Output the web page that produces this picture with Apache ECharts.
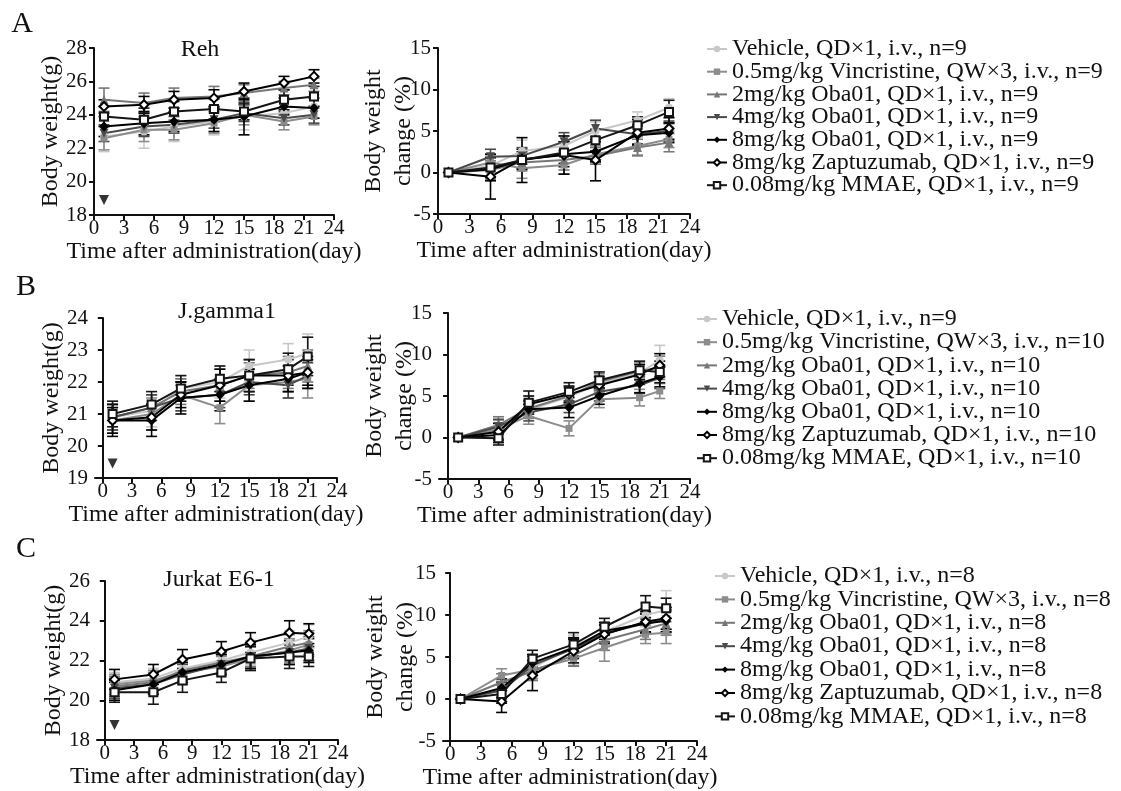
<!DOCTYPE html>
<html>
<head>
<meta charset="utf-8">
<script src="https://cdn.jsdelivr.net/npm/echarts@6.0.0/dist/echarts.min.js"></script>
<style>
html, body { margin: 0; padding: 0; background: #fff; }
#chart { width: 1121px; height: 791px; }
</style>
</head>
<body>
<div id="chart"></div>
<script>
// sampling days
const daysA = [1, 5, 8, 12, 15, 19, 22];
const daysBC = [1, 5, 8, 12, 15, 19, 21];
const xTicks = [0, 3, 6, 9, 12, 15, 18, 21, 24];

// legend labels (order = series order)
const namesA = [
  'Vehicle, QD×1, i.v., n=9',
  '0.5mg/kg Vincristine, QW×3, i.v., n=9',
  '2mg/kg Oba01, QD×1, i.v., n=9',
  '4mg/kg Oba01, QD×1, i.v., n=9',
  '8mg/kg Oba01, QD×1, i.v., n=9',
  '8mg/kg Zaptuzumab, QD×1, i.v., n=9',
  '0.08mg/kg MMAE, QD×1, i.v., n=9'
];
const namesB = [
  'Vehicle, QD×1, i.v., n=9',
  '0.5mg/kg Vincristine, QW×3, i.v., n=10',
  '2mg/kg Oba01, QD×1, i.v., n=10',
  '4mg/kg Oba01, QD×1, i.v., n=10',
  '8mg/kg Oba01, QD×1, i.v., n=10',
  '8mg/kg Zaptuzumab, QD×1, i.v., n=10',
  '0.08mg/kg MMAE, QD×1, i.v., n=10'
];
const namesC = [
  'Vehicle, QD×1, i.v., n=8',
  '0.5mg/kg Vincristine, QW×3, i.v., n=8',
  '2mg/kg Oba01, QD×1, i.v., n=8',
  '4mg/kg Oba01, QD×1, i.v., n=8',
  '8mg/kg Oba01, QD×1, i.v., n=8',
  '8mg/kg Zaptuzumab, QD×1, i.v., n=8',
  '0.08mg/kg MMAE, QD×1, i.v., n=8'
];

// A: Reh — body weight (g), mean and SD
const rehWeight = [
  [22.7, 23.0, 23.3, 23.6, 23.9, 24.1, 24.5],
  [22.6, 23.1, 23.1, 23.5, 24.0, 23.6, 23.9],
  [24.9, 24.7, 25.0, 25.1, 25.3, 25.6, 25.8],
  [22.9, 23.3, 23.4, 23.7, 24.1, 23.8, 24.0],
  [23.3, 23.5, 23.6, 23.7, 23.9, 24.5, 24.4],
  [24.5, 24.6, 24.9, 25.0, 25.4, 25.9, 26.3],
  [23.9, 23.7, 24.2, 24.35, 24.2, 24.9, 25.1]
];
const rehWeightSd = [
  [0.9, 1.0, 0.9, 0.8, 0.8, 0.7, 0.7],
  [0.7, 0.7, 0.6, 0.6, 0.6, 0.5, 0.5],
  [0.7, 0.6, 0.6, 0.6, 0.5, 0.4, 0.4],
  [0.5, 0.6, 0.5, 0.5, 0.5, 0.4, 0.5],
  [0.6, 0.7, 0.6, 0.7, 1.1, 0.5, 0.6],
  [0.4, 0.5, 0.5, 0.5, 0.5, 0.4, 0.4],
  [0.6, 0.7, 0.6, 0.6, 0.5, 0.6, 0.6]
];
// A: Reh — body weight change (%)
const rehChange = [
  [0, 0.8, 2.6, 3.2, 5.0, 6.3, 7.8],
  [0, 1.2, 0.5, 0.9, 2.2, 3.2, 4.0],
  [0, 0.3, 1.2, 1.5, 2.0, 3.0, 3.6],
  [0, 1.9, 2.0, 3.7, 5.3, 4.6, 5.0],
  [0, 0.4, 1.5, 2.2, 2.5, 4.5, 4.8],
  [0, -0.5, 1.6, 2.1, 1.5, 4.8, 5.3],
  [0, 0.6, 1.5, 2.4, 3.9, 5.7, 7.3]
];
const rehChangeSd = [
  [0, 1.2, 1.3, 1.2, 1.1, 1.0, 1.1],
  [0, 1.0, 1.2, 1.1, 1.0, 1.1, 1.0],
  [0, 1.1, 1.0, 1.2, 1.0, 1.0, 1.1],
  [0, 0.9, 1.0, 1.1, 1.0, 1.2, 1.2],
  [0, 1.4, 2.7, 1.5, 1.2, 1.1, 1.2],
  [0, 2.7, 1.2, 2.3, 2.5, 1.6, 1.3],
  [0, 1.2, 1.0, 1.3, 1.3, 1.0, 1.4]
];

// B: J.gamma1
const jgWeight = [
  [20.9, 21.1, 21.8, 22.0, 22.5, 22.7, 22.9],
  [20.8, 21.0, 21.6, 21.2, 21.9, 22.0, 22.1],
  [20.9, 21.2, 21.7, 21.9, 22.2, 22.3, 22.5],
  [20.9, 21.2, 21.5, 21.6, 22.0, 21.9, 22.2],
  [20.8, 20.8, 21.5, 21.6, 21.9, 22.1, 22.3],
  [20.8, 20.9, 21.6, 21.9, 22.2, 22.2, 22.3],
  [21.0, 21.3, 21.8, 22.1, 22.2, 22.4, 22.8]
];
const jgWeightSd = [
  [0.5, 0.5, 0.4, 0.5, 0.5, 0.5, 0.6],
  [0.4, 0.5, 0.5, 0.5, 0.5, 0.5, 0.6],
  [0.4, 0.4, 0.4, 0.5, 0.4, 0.5, 0.5],
  [0.4, 0.4, 0.4, 0.4, 0.4, 0.4, 0.4],
  [0.5, 0.5, 0.5, 0.5, 0.5, 0.4, 0.4],
  [0.4, 0.4, 0.4, 0.5, 0.5, 0.5, 0.5],
  [0.4, 0.4, 0.4, 0.4, 0.5, 0.5, 0.6]
];
const jgChange = [
  [0, 0.8, 3.3, 4.9, 6.5, 7.8, 9.3],
  [0, 1.0, 2.6, 1.1, 4.6, 4.8, 5.6],
  [0, 1.5, 3.5, 5.0, 6.7, 8.0, 8.4],
  [0, 1.3, 3.0, 4.0, 5.5, 6.3, 7.2],
  [0, 0.3, 3.4, 3.6, 5.0, 6.5, 7.3],
  [0, 0.7, 4.0, 5.2, 6.3, 7.6, 8.7],
  [0, -0.1, 4.2, 5.5, 6.9, 8.1, 7.9]
];
const jgChangeSd = [
  [0, 1.0, 1.0, 1.1, 1.0, 1.2, 1.8],
  [0, 1.1, 1.0, 0.9, 1.0, 1.0, 0.9],
  [0, 1.0, 1.1, 1.0, 1.0, 1.1, 1.4],
  [0, 0.9, 1.0, 1.0, 1.1, 1.0, 1.3],
  [0, 0.9, 1.0, 1.2, 1.0, 1.1, 1.2],
  [0, 1.0, 1.0, 1.0, 1.0, 1.2, 1.4],
  [0, 0.8, 1.4, 1.1, 1.0, 1.1, 1.3]
];

// C: Jurkat E6-1
const jkWeight = [
  [20.9, 21.1, 21.6, 22.0, 22.4, 22.9, 23.2],
  [20.8, 21.0, 21.4, 21.7, 22.1, 22.5, 22.8],
  [20.7, 20.9, 21.5, 21.9, 22.2, 22.7, 22.9],
  [20.6, 20.8, 21.3, 21.8, 22.2, 22.4, 22.6],
  [20.5, 20.8, 21.4, 21.8, 22.2, 22.4, 22.5],
  [21.05, 21.3, 22.05, 22.45, 22.9, 23.4, 23.35],
  [20.4, 20.4, 21.0, 21.4, 22.1, 22.2, 22.2]
];
const jkWeightSd = [
  [0.5, 0.5, 0.5, 0.5, 0.6, 0.6, 0.6],
  [0.5, 0.5, 0.5, 0.5, 0.6, 0.6, 0.6],
  [0.5, 0.5, 0.5, 0.5, 0.5, 0.6, 0.6],
  [0.5, 0.5, 0.5, 0.5, 0.6, 0.6, 0.6],
  [0.5, 0.5, 0.5, 0.5, 0.6, 0.6, 0.6],
  [0.5, 0.5, 0.5, 0.5, 0.5, 0.6, 0.5],
  [0.5, 0.6, 0.6, 0.5, 0.6, 0.6, 0.5]
];
const jkChange = [
  [0, 1.2, 3.7, 6.3, 8.0, 10.0, 10.6],
  [0, 2.8, 3.5, 4.8, 6.1, 7.7, 7.9],
  [0, 2.0, 3.3, 5.2, 7.0, 8.3, 9.0],
  [0, 1.0, 4.0, 6.0, 7.8, 9.0, 9.4],
  [0, 1.3, 4.3, 6.1, 8.1, 9.0, 9.3],
  [0, -0.3, 2.8, 5.7, 7.7, 9.2, 9.6],
  [0, 0.6, 4.8, 6.5, 8.6, 11.0, 10.8]
];
const jkChangeSd = [
  [0, 1.0, 1.2, 1.3, 1.2, 1.4, 2.3],
  [0, 0.8, 1.1, 0.8, 1.6, 1.1, 1.3],
  [0, 1.0, 1.1, 1.3, 1.2, 1.2, 1.4],
  [0, 1.0, 1.1, 1.2, 1.0, 1.2, 1.5],
  [0, 1.1, 1.0, 1.2, 1.0, 1.1, 1.3],
  [0, 1.3, 1.8, 1.4, 1.1, 1.2, 1.3],
  [0, 1.1, 1.0, 1.4, 1.0, 1.3, 1.2]
];

// dosing arrow (day 1), y value per cell line
const dosingDay = 1;
const dosingMarkY = [18.9, 19.45, 18.75];

const FONT = '"Liberation Serif", "Times New Roman", serif';
const INK = '#111';

const groupStyles = [
  { color: '#c8c8c8', symbol: 'circle', size: 8 },
  { color: '#8c8c8c', symbol: 'rect', size: 7 },
  { color: '#777777', symbol: 'triangle', size: 9 },
  { color: '#4a4a4a', symbol: 'triangle', size: 9, rotate: 180 },
  { color: '#000000', symbol: 'diamond', size: 10 },
  { color: '#000000', symbol: 'emptyDiamond', size: 9 },
  { color: '#151515', symbol: 'emptyRect', size: 8 }
];

const panels = [
  { left: 94, top: 48, width: 240, height: 167, xMin: 0, yMin: 18, yMax: 28, yStep: 2,
    days: daysA, mean: rehWeight, sd: rehWeightSd, names: namesA, yName: 'Body weight(g)', gap: 28, mark: 0 },
  { left: 438, top: 48, width: 252, height: 166, xMin: 0, yMin: -5, yMax: 15, yStep: 5,
    days: daysA, mean: rehChange, sd: rehChangeSd, names: namesA, yName: 'Body weight\nchange (%)', gap: 19 },
  { left: 95, top: 318, width: 242, height: 160, xMin: -0.8, yMin: 19, yMax: 24, yStep: 1,
    days: daysBC, mean: jgWeight, sd: jgWeightSd, names: namesB, yName: 'Body weight(g)', gap: 28, mark: 1 },
  { left: 439, top: 313, width: 251, height: 166, xMin: -0.9, yMin: -5, yMax: 15, yStep: 5,
    days: daysBC, mean: jgChange, sd: jgChangeSd, names: namesB, yName: 'Body weight\nchange (%)', gap: 19 },
  { left: 97, top: 581, width: 241, height: 159, xMin: -0.8, yMin: 18, yMax: 26, yStep: 2,
    days: daysBC, mean: jkWeight, sd: jkWeightSd, names: namesC, yName: 'Body weight(g)', gap: 28, mark: 2 },
  { left: 443, top: 573, width: 254, height: 168, xMin: -0.7, yMin: -5, yMax: 15, yStep: 5,
    days: daysBC, mean: jkChange, sd: jkChangeSd, names: namesC, yName: 'Body weight\nchange (%)', gap: 22 }
];

function errorBar(color) {
  return function (params, api) {
    const x = api.value(0), m = api.value(1), e = api.value(2);
    if (!e) return null;
    const hi = api.coord([x, m + e]);
    const lo = api.coord([x, m - e]);
    const w = 5.5;
    const style = { stroke: color, lineWidth: 1.6 };
    return {
      type: 'group',
      children: [
        { type: 'line', shape: { x1: hi[0], y1: hi[1], x2: lo[0], y2: lo[1] }, style: style },
        { type: 'line', shape: { x1: hi[0] - w, y1: hi[1], x2: hi[0] + w, y2: hi[1] }, style: style },
        { type: 'line', shape: { x1: lo[0] - w, y1: lo[1], x2: lo[0] + w, y2: lo[1] }, style: style }
      ]
    };
  };
}

const grids = [], xAxes = [], yAxes = [], series = [];

panels.forEach(function (p, i) {
  grids.push({ left: p.left, top: p.top, width: p.width, height: p.height, outerBoundsMode: 'none' });
  xAxes.push({
    gridIndex: i, type: 'value', min: p.xMin, max: 24,
    name: 'Time after administration(day)', nameLocation: 'middle', nameGap: 21,
    nameTextStyle: { fontFamily: FONT, fontSize: 24, color: INK },
    axisLine: { onZero: false, lineStyle: { color: INK, width: 2 } },
    axisTick: { length: 5, customValues: xTicks, lineStyle: { color: INK, width: 2 } },
    axisLabel: { customValues: xTicks, margin: 3, fontFamily: FONT, fontSize: 21, color: INK },
    splitLine: { show: false }
  });
  yAxes.push({
    gridIndex: i, type: 'value', min: p.yMin, max: p.yMax, interval: p.yStep,
    name: p.yName, nameLocation: 'middle', nameGap: p.gap, nameMoveOverlap: false,
    nameTextStyle: { fontFamily: FONT, fontSize: 24, lineHeight: 30, color: INK },
    axisLine: { show: true, lineStyle: { color: INK, width: 2 } },
    axisTick: { show: true, length: 5, lineStyle: { color: INK, width: 2 } },
    axisLabel: { margin: 7, fontFamily: FONT, fontSize: 21, color: INK },
    splitLine: { show: false }
  });
  p.mean.forEach(function (vals, g) {
    const st = groupStyles[g];
    series.push({
      type: 'custom', xAxisIndex: i, yAxisIndex: i, silent: true,
      renderItem: errorBar(st.color),
      encode: { x: 0, y: 1 },
      data: p.days.map(function (d, k) { return [d, vals[k], p.sd[g][k]]; })
    });
    series.push({
      type: 'line', name: p.names[g], xAxisIndex: i, yAxisIndex: i,
      data: p.days.map(function (d, k) { return [d, vals[k]]; }),
      symbol: st.symbol, symbolSize: st.size, symbolRotate: st.rotate || 0,
      showAllSymbol: true,
      lineStyle: { color: st.color, width: 2 },
      itemStyle: { color: st.color, borderColor: st.color, borderWidth: st.symbol.indexOf('empty') === 0 ? 1.6 : 0 }
    });
  });
  if (p.mark !== undefined) {
    series.push({
      type: 'scatter', xAxisIndex: i, yAxisIndex: i, silent: true,
      symbol: 'triangle', symbolRotate: 180, symbolSize: [10, 10],
      itemStyle: { color: '#000' },
      data: [[dosingDay, dosingMarkY[p.mark]]]
    });
  }
});

const legendPlaces = [
  { names: namesA, left: 701, top: 32, gap: -1.3 },
  { names: namesB, left: 691, top: 302, gap: -0.8 },
  { names: namesC, left: 709, top: 559, gap: -0.6 }
];

function label(text, x, y, size) {
  return {
    type: 'text', x: x, y: y, silent: true,
    style: { text: text, font: size + 'px ' + FONT, fill: INK, align: 'center', verticalAlign: 'middle' }
  };
}

const chart = echarts.init(document.getElementById('chart'));
chart.setOption({
  backgroundColor: '#ffffff',
  animation: false,
  grid: grids,
  xAxis: xAxes,
  yAxis: yAxes,
  legend: legendPlaces.map(function (l) {
    return {
      orient: 'vertical', left: l.left, top: l.top, data: l.names,
      itemWidth: 20, itemHeight: 8, itemGap: l.gap, selectedMode: false,
      textStyle: { fontFamily: FONT, fontSize: 24, lineHeight: 23, color: INK }
    };
  }),
  graphic: [
    label('A', 22, 24, 30),
    label('B', 26, 287, 30),
    label('C', 26, 549, 30),
    label('Reh', 200, 50, 24),
    label('J.gamma1', 227, 312, 24),
    label('Jurkat E6-1', 219, 580, 24)
  ],
  series: series
});
</script>
</body>
</html>
